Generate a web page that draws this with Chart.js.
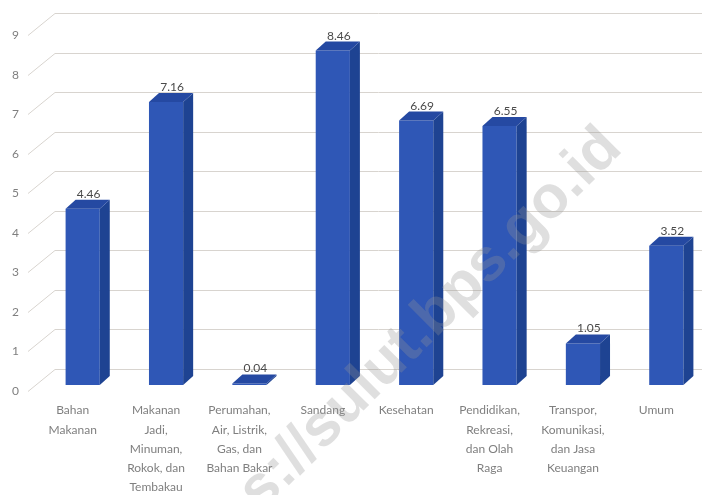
<!DOCTYPE html>
<html>
<head>
<meta charset="utf-8">
<script src="https://cdn.jsdelivr.net/npm/chart.js@4"></script>
<style>
  html, body { margin: 0; padding: 0; background: #fff; }
  #wrap { width: 709px; height: 495px; }
</style>
</head>
<body>
<div id="wrap"><canvas id="myChart"></canvas></div>
<script>
const categories = [
  ['Bahan', 'Makanan'],
  ['Makanan', 'Jadi,', 'Minuman,', 'Rokok, dan', 'Tembakau'],
  ['Perumahan,', 'Air, Listrik,', 'Gas, dan', 'Bahan Bakar'],
  ['Sandang'],
  ['Kesehatan'],
  ['Pendidikan,', 'Rekreasi,', 'dan Olah', 'Raga'],
  ['Transpor,', 'Komunikasi,', 'dan Jasa', 'Keuangan'],
  ['Umum']
];
const values = [4.46, 7.16, 0.04, 8.46, 6.69, 6.55, 1.05, 3.52];
const yTicks = [0, 1, 2, 3, 4, 5, 6, 7, 8, 9];

// 3d look
const depthX = 10;
const depthY = -9;
const frontColor = '#2f57b6';
const sideColor = '#1e4392';
const topColor = '#2549a2';
const gridColor = '#d8d4cf';

const wallsPlugin = {
  id: 'walls',
  beforeDatasetsDraw(chart) {
    const ctx = chart.ctx;
    const yScale = chart.scales.y;
    ctx.save();
    ctx.strokeStyle = gridColor;
    ctx.lineWidth = 1;
    yTicks.forEach(v => {
      const p = Math.round(yScale.getPixelForValue(v)) + 0.5;
      ctx.beginPath();
      ctx.moveTo(28, p + 6);
      ctx.lineTo(55, p - 16);
      ctx.lineTo(702, p - 16);
      ctx.stroke();
    });
    ctx.restore();
  }
};

const bars3dPlugin = {
  id: 'bars3d',
  afterDatasetsDraw(chart) {
    const ctx = chart.ctx;
    const meta = chart.getDatasetMeta(0);
    ctx.save();
    meta.data.forEach((bar, i) => {
      const p = bar.getProps(['x', 'y', 'base', 'width'], true);
      const l = p.x - p.width / 2;
      const r = p.x + p.width / 2;
      // side
      ctx.fillStyle = sideColor;
      ctx.beginPath();
      ctx.moveTo(r, p.y);
      ctx.lineTo(r + depthX, p.y + depthY);
      ctx.lineTo(r + depthX, p.base + depthY);
      ctx.lineTo(r, p.base);
      ctx.closePath();
      ctx.fill();
      // top
      ctx.fillStyle = topColor;
      ctx.beginPath();
      ctx.moveTo(l, p.y);
      ctx.lineTo(r, p.y);
      ctx.lineTo(r + depthX, p.y + depthY);
      ctx.lineTo(l + depthX, p.y + depthY);
      ctx.closePath();
      ctx.fill();
      // value label
      ctx.fillStyle = '#4a4a4a';
      ctx.font = '12px Lato';
      ctx.textAlign = 'center';
      ctx.textBaseline = 'alphabetic';
      ctx.fillText(values[i].toFixed(2), p.x + 6, p.y + depthY - 2);
    });
    ctx.restore();
  }
};

const watermarkPlugin = {
  id: 'watermark',
  afterDraw(chart) {
    const ctx = chart.ctx;
    ctx.save();
    ctx.translate(624, 150);
    ctx.rotate(-Math.PI / 4);
    ctx.font = 'bold 60px "Liberation Sans"';
    ctx.textAlign = 'right';
    ctx.fillStyle = 'rgba(150,150,150,0.3)';
    ctx.fillText('https://sulut.bps.go.id', 0, 0);
    ctx.restore();
  }
};

const data = {
  labels: categories,
  datasets: [{
    data: values,
    backgroundColor: frontColor,
    borderWidth: 0,
    categoryPercentage: 1,
    barPercentage: 0.41
  }]
};

const config = {
  type: 'bar',
  data: data,
  options: {
    responsive: true,
    maintainAspectRatio: false,
    animation: false,
    layout: { padding: { top: 25, right: 1, left: 0, bottom: 0 } },
    scales: {
      x: {
        grid: { display: false, drawTicks: false },
        border: { display: false },
        ticks: {
          color: '#7f7f7f',
          font: { family: 'Lato', size: 12, lineHeight: 1.6 },
          padding: 16,
          labelOffset: -10,
          maxRotation: 0,
          autoSkip: false
        },
        afterFit(scale) { scale.height = 110; }
      },
      y: {
        min: 0,
        max: 9,
        grid: { display: false, drawTicks: false },
        border: { display: false },
        afterBuildTicks(scale) {
          scale.ticks = yTicks.map(v => ({ value: v }));
        },
        ticks: {
          color: '#7f7f7f',
          font: { family: 'Lato', size: 12 },
          padding: 22,
          labelOffset: 6
        },
        afterFit(scale) { scale.width = 41; }
      }
    },
    plugins: {
      legend: { display: false },
      tooltip: { enabled: false }
    }
  },
  plugins: [wallsPlugin, bars3dPlugin, watermarkPlugin]
};

const myChart = new Chart(document.getElementById('myChart'), config);
</script>
</body>
</html>
